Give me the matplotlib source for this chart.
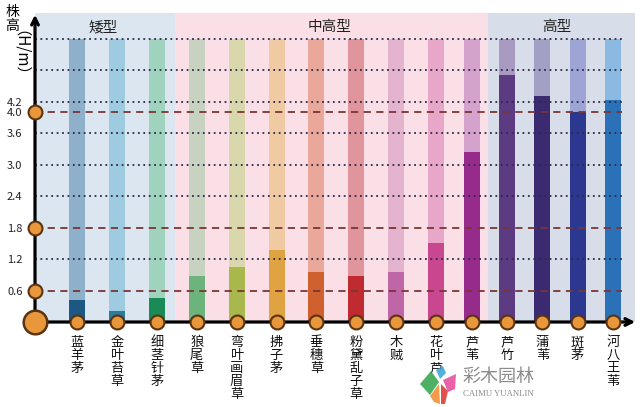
import numpy as np
import matplotlib.pyplot as plt
from matplotlib.patches import Polygon

plt.rcParams['font.family'] = ['Noto Sans CJK SC', 'DejaVu Sans']

# data
plants = ['蓝羊茅', '金叶苔草', '细茎针茅', '狼尾草', '弯叶画眉草', '拂子茅', '垂穗草',
          '粉黛乱子草', '木贼', '花叶芦', '芦苇', '芦竹', '蒲苇', '斑茅', '河八王苇']
heights = [0.42, 0.21, 0.46, 0.88, 1.05, 1.38, 0.96, 0.88, 0.96, 1.5, 3.23, 4.7, 4.3, 4.0, 4.23]
dark_colors = ['#1d5885', '#2b7c9c', '#1a8a57', '#6cb37c', '#a8b84c', '#e0a342', '#cf612f',
               '#bf2b30', '#bf66a6', '#c9478f', '#972b8c', '#5c3b82', '#3b2a6f', '#2c3890', '#2b71b8']
light_colors = ['#8fb0cb', '#9ecbe0', '#9fd3bd', '#c8d2c1', '#d9d8ac', '#efcaa3', '#e9a899',
                '#e0959c', '#e4b3cd', '#e8a7c9', '#d4a2cc', '#a99ac2', '#a2a1c5', '#9ea5d5', '#8cb9e2']
groups = ['矮型', '中高型', '高型']
group_edges = [35, 175, 488, 635]
group_colors = ['#dce6f0', '#fadfe6', '#d8ddea']
dotted_levels = [1.2, 2.4, 3.0, 3.6, 4.2, 4.8, 5.4]
dashed_levels = [0.6, 1.8, 4.0]
tick_values = [0.6, 1.2, 1.8, 2.4, 3.0, 3.6, 4.0, 4.2]

# bar positions (pixel-like layout units)
x_pos = np.r_[77 + 39.9 * np.arange(10), 472 + 35.2 * np.arange(5)]
top = 5.886

fig = plt.figure(figsize=(6.4, 4.07), dpi=100)
ax = fig.add_axes([35 / 640, 85 / 407, 600 / 640, 309 / 407])
ax.set_xlim(35, 635)
ax.set_ylim(0, top)

# background bands + headers
for i, g in enumerate(groups):
    ax.axvspan(group_edges[i], group_edges[i + 1], color=group_colors[i], zorder=0, lw=0)
    ax.text((group_edges[i] + group_edges[i + 1]) / 2 + (-2 if i < 2 else -5), 5.62, g,
            ha='center', va='center', fontsize=10.5, color='#222222')

# bars
ax.bar(x_pos, [5.4] * len(x_pos), width=16, color=light_colors, zorder=1)
ax.bar(x_pos, heights, width=16, color=dark_colors, zorder=2)

# guide lines
for v in dotted_levels:
    ax.plot([35, 622], [v, v], ls=(0, (1, 2)), color='#2a2a45', lw=1.3, zorder=3)
for v in dashed_levels:
    ax.plot([35, 622], [v, v], ls=(0, (4, 3)), color='#7a3535', lw=1.3, zorder=3)

# axes with arrows
ax.annotate('', xy=(638, 0), xytext=(34, 0),
            arrowprops=dict(arrowstyle='->', lw=2.3, color='black', mutation_scale=12),
            annotation_clip=False, zorder=4)
ax.annotate('', xy=(35, top + 0.02), xytext=(35, 0),
            arrowprops=dict(arrowstyle='->', lw=2.3, color='black', mutation_scale=12),
            annotation_clip=False, zorder=4)

# circles
ax.plot(x_pos, [0] * len(x_pos), 'o', ms=10, mfc='#e8973a', mec='#5a3312', mew=1.5,
        clip_on=False, zorder=5)
ax.plot([35] * len(dashed_levels), dashed_levels, 'o', ms=10, mfc='#e8973a', mec='#5a3312',
        mew=1.5, clip_on=False, zorder=5)
ax.plot([35], [0], 'o', ms=17, mfc='#e8973a', mec='#5a3312', mew=1.8, clip_on=False, zorder=6)

ax.set_xticks([])
ax.set_yticks(tick_values)
ax.set_yticklabels([f'{v:.1f}' for v in tick_values], fontsize=8, color='#222222')
ax.tick_params(axis='y', length=0, pad=9)
for s in ax.spines.values():
    s.set_visible(False)

# category labels, vertical
for x, name in zip(x_pos, plants):
    ax.text(x, -0.27, '\n'.join(name), ha='center', va='top', fontsize=9.5,
            linespacing=1.0, color='#111111', clip_on=False)

# y axis label
fig.text(12 / 640, 1 - 19 / 407, '株\n高', ha='center', va='center', fontsize=10, linespacing=0.95)
fig.text(12 / 640, 1 - 61 / 407, '（H/m）', ha='center', va='center', fontsize=11, rotation=-90)

# watermark (logo + text)
ov = fig.add_axes([0, 0, 1, 1], zorder=10)
ov.set_xlim(0, 640)
ov.set_ylim(407, 0)
ov.axis('off')
logo = [
    ([(420, 384), (431, 371), (439, 382), (430, 395)], '#2fa34a'),
    ([(430, 396), (439, 384), (440, 404), (434, 402)], '#f08a2a'),
    ([(441, 384), (448, 391), (445, 404), (441, 404)], '#d9332f'),
    ([(443, 380), (456, 374), (455, 389), (448, 392)], '#e9479a'),
    ([(436, 370), (443, 366), (446, 373), (440, 379)], '#35a3d8'),
]
for pts, c in logo:
    ov.add_patch(Polygon(pts, closed=True, color=c, alpha=0.85, lw=0))
ov.text(463, 377, '彩木园林', fontsize=13, color='#8c8c8c', va='center', ha='left')
ov.text(463, 394, 'CAIMU YUANLIN', fontsize=6.3, color='#8c8c8c', va='center', ha='left',
        family='Liberation Serif')

fig.savefig('out.png', dpi=100)
